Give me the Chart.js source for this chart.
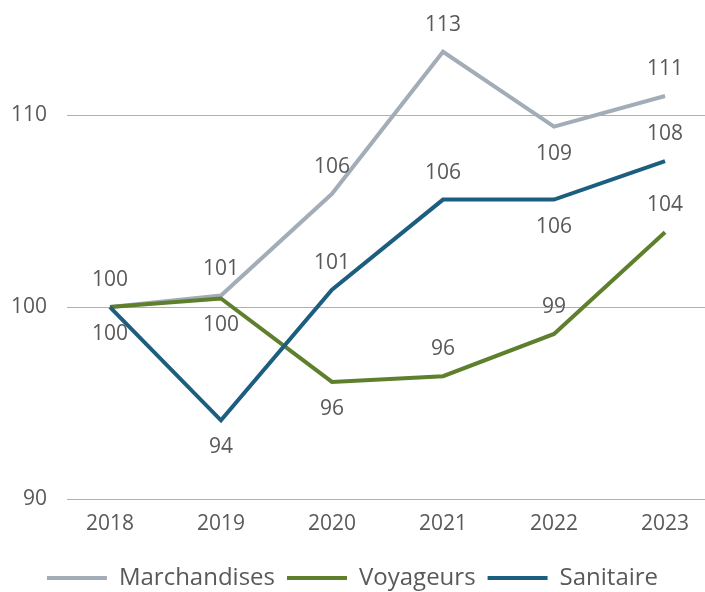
<!DOCTYPE html>
<html>
<head>
<meta charset="utf-8">
<script src="https://cdn.jsdelivr.net/npm/chart.js@4"></script>
<style>
  html, body { margin: 0; padding: 0; background: #fff; overflow: hidden; }
  #wrap { position: relative; width: 705px; height: 592px; }
</style>
</head>
<body>
<div id="wrap"><canvas id="c" width="705" height="592"></canvas></div>
<script>
const years = ['2018', '2019', '2020', '2021', '2022', '2023'];
const seriesNames = ['Marchandises', 'Voyageurs', 'Sanitaire'];
const marchandises = [100, 100.6, 105.9, 113.3, 109.4, 111.0];
const voyageurs = [100, 100.45, 96.1, 96.4, 98.6, 103.9];
const sanitaire = [100, 94.1, 100.9, 105.6, 105.6, 107.6];
const yTicks = [90, 100, 110];
// label placement: 'a' above, 'b' below, null none
const marchandisesLabelPos = ['a', 'a', 'a', 'a', 'b', 'a'];
const voyageursLabelPos = [null, 'b', 'b', 'a', 'a', 'a'];
const sanitaireLabelPos = ['b', 'b', 'a', 'a', 'b', 'a'];

const colors = ['#A3ADB8', '#5E7F2C', '#1C5E80'];
const textColor = '#595959';
const fontFamily = '"Open Sans", "Noto Sans", sans-serif';

const toPts = arr => arr.map((v, i) => ({ x: i, y: v }));
const labelPos = [marchandisesLabelPos, voyageursLabelPos, sanitaireLabelPos];

const labelPlugin = {
  id: 'pointLabels',
  afterDatasetsDraw(chart) {
    const ctx = chart.ctx;
    ctx.save();
    ctx.font = '21px ' + fontFamily;
    ctx.fillStyle = textColor;
    ctx.textAlign = 'center';
    ctx.textBaseline = 'middle';
    chart.data.datasets.forEach((ds, i) => {
      const meta = chart.getDatasetMeta(i);
      meta.data.forEach((pt, j) => {
        const p = labelPos[i][j];
        if (!p) return;
        const off = p === 'a' ? -27 : 27;
        ctx.fillText(String(Math.round(ds.data[j].y)), pt.x, pt.y + off);
      });
    });
    ctx.restore();
  }
};

new Chart(document.getElementById('c'), {
  type: 'line',
  data: {
    datasets: [
      { label: seriesNames[0], data: toPts(marchandises), borderColor: colors[0], backgroundColor: colors[0], order: 3 },
      { label: seriesNames[1], data: toPts(voyageurs), borderColor: colors[1], backgroundColor: colors[1], order: 2 },
      { label: seriesNames[2], data: toPts(sanitaire), borderColor: colors[2], backgroundColor: colors[2], order: 1 }
    ]
  },
  options: {
    responsive: false,
    animation: false,
    devicePixelRatio: 1,
    layout: { padding: { top: 0, right: 0, left: 0, bottom: -8 } },
    elements: {
      line: { borderWidth: 4, tension: 0, borderJoinStyle: 'miter' },
      point: { radius: 0, hoverRadius: 0 }
    },
    scales: {
      x: {
        type: 'linear',
        min: -0.387,
        max: 5.36,
        afterBuildTicks: s => { s.ticks = years.map((y, i) => ({ value: i })); },
        afterFit: s => { s.paddingLeft = 0; s.paddingRight = 0; s.height = 55; },
        ticks: {
          callback: v => years[v],
          color: textColor,
          font: { family: fontFamily, size: 21 },
          padding: 12,
          maxRotation: 0,
          autoSkip: false
        },
        grid: { display: false, drawTicks: false },
        border: { display: false }
      },
      y: {
        min: 90,
        max: 116,
        afterBuildTicks: s => { s.ticks = yTicks.map(v => ({ value: v })); },
        afterFit: s => { s.width = 67; s.paddingTop = 0; s.paddingBottom = 0; },
        ticks: {
          color: textColor,
          font: { family: fontFamily, size: 21 },
          padding: 20
        },
        grid: { color: '#A8B0BC', lineWidth: 1, drawTicks: false },
        border: { display: false }
      }
    },
    plugins: {
      legend: {
        position: 'bottom',
        labels: {
          boxWidth: 60,
          boxHeight: 4,
          color: textColor,
          font: { family: fontFamily, size: 24 },
          padding: 12,
          generateLabels: chart => chart.data.datasets.map((ds, i) => ({
            text: ds.label,
            fillStyle: ds.borderColor,
            strokeStyle: ds.borderColor,
            lineWidth: 0,
            hidden: false,
            datasetIndex: i,
            fontColor: textColor
          }))
        }
      },
      tooltip: { enabled: false }
    }
  },
  plugins: [labelPlugin]
});
</script>
</body>
</html>
